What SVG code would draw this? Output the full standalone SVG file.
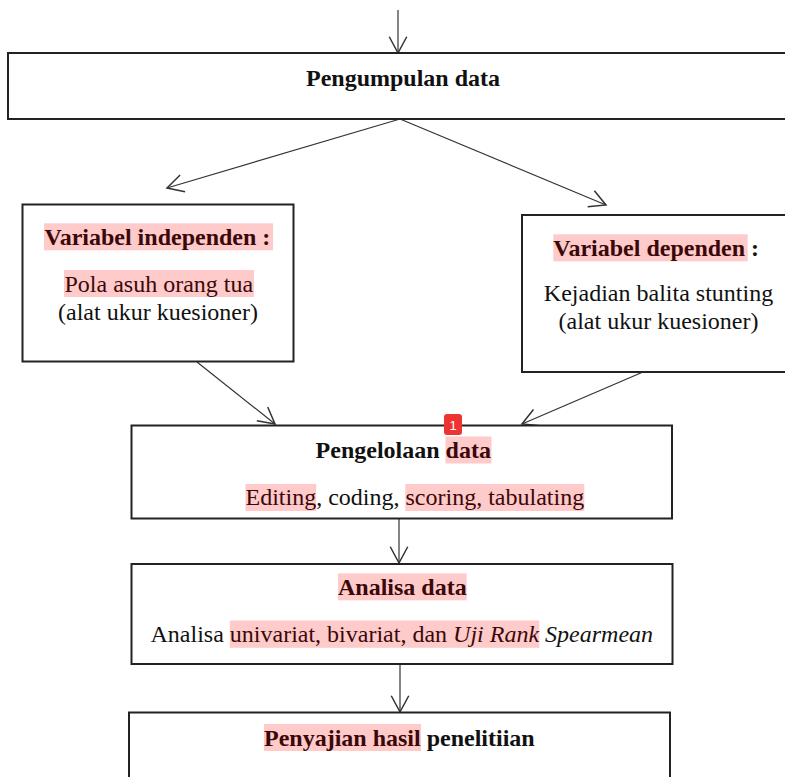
<svg xmlns="http://www.w3.org/2000/svg" width="785" height="777" viewBox="0 0 785 777">
<style>
.box{fill:#fff;stroke:#222;stroke-width:2}
.t{font-family:"Liberation Serif","Times New Roman",serif;font-size:24px;fill:#111}
.b{font-weight:bold}
.i{font-style:italic}
.hl{fill:#ffcaca}
.ht{fill:#3a0808}
.con{fill:none;stroke:#333;stroke-width:1.2}
</style>
<defs>
<marker id="arr" markerUnits="userSpaceOnUse" markerWidth="20" markerHeight="20" refX="0" refY="0" viewBox="-14 -8 16 16" orient="auto">
<path d="M-13,-7 L0,0 L-13,7" fill="none" stroke="#333" stroke-width="1.2"/>
</marker>
</defs>
<rect width="785" height="777" fill="#fff"/>
<g id="connectors">
<line class="con" x1="398" y1="10" x2="398" y2="53" marker-end="url(#arr)"/>
<line class="con" x1="400" y1="119" x2="167" y2="188" marker-end="url(#arr)"/>
<line class="con" x1="400" y1="119" x2="606" y2="205" marker-end="url(#arr)"/>
<line class="con" x1="197" y1="362" x2="275" y2="424" marker-end="url(#arr)"/>
<line class="con" x1="643" y1="372" x2="522" y2="424" marker-end="url(#arr)"/>
<line class="con" x1="399" y1="519" x2="399" y2="563" marker-end="url(#arr)"/>
<line class="con" x1="400" y1="664" x2="400" y2="712" marker-end="url(#arr)"/>
</g>
<g id="pengumpulan">
<rect class="box" x="8" y="53" width="800" height="66"/>
<text class="t b" x="306" y="86">Pengumpulan data</text>
</g>
<g id="independen">
<rect class="box" x="22.5" y="204.5" width="271" height="157"/>
<rect class="hl" x="44" y="223.3" width="229" height="27"/>
<text class="t b ht" x="44.5" y="244.8">Variabel independen :</text>
<rect class="hl" x="64" y="270" width="190" height="27"/>
<text class="t ht" x="64.5" y="291.5">Pola asuh orang tua</text>
<text class="t" x="158" y="319.5" text-anchor="middle">(alat ukur kuesioner)</text>
</g>
<g id="dependen">
<rect class="box" x="522" y="215" width="280" height="157"/>
<rect class="hl" x="553.3" y="234.3" width="194.4" height="27"/>
<text class="t b" x="553.3" y="255.7"><tspan class="ht">Variabel dependen</tspan> :</text>
<text class="t" x="658.5" y="301" text-anchor="middle">Kejadian balita stunting</text>
<text class="t" x="658.5" y="328.8" text-anchor="middle">(alat ukur kuesioner)</text>
</g>
<g id="pengelolaan">
<rect class="box" x="131.5" y="425.5" width="540.5" height="93"/>
<rect class="hl" x="445.5" y="436.5" width="46" height="27"/>
<text class="t b" x="315.6" y="457.8">Pengelolaan <tspan class="ht">data</tspan></text>
<rect class="hl" x="245.5" y="484" width="70.7" height="27"/>
<rect class="hl" x="405.3" y="484" width="179" height="27"/>
<text class="t" x="245.5" y="505.4"><tspan class="ht">Editing</tspan>, coding, <tspan class="ht">scoring, tabulating</tspan></text>
</g>
<g id="analisa">
<rect class="box" x="131.5" y="564" width="541" height="100"/>
<rect class="hl" x="338" y="573.3" width="128.7" height="27"/>
<text class="t b ht" x="338" y="594.8">Analisa data</text>
<rect class="hl" x="229.8" y="620.5" width="309.5" height="27.3"/>
<text class="t" x="150.5" y="642">Analisa <tspan class="ht">univariat, bivariat, dan <tspan class="i">Uji Rank</tspan></tspan> <tspan class="i">Spearmean</tspan></text>
</g>
<g id="penyajian">
<rect class="box" x="129" y="712.5" width="541" height="100"/>
<rect class="hl" x="264" y="724" width="157" height="27"/>
<text class="t b" x="264" y="745.5"><tspan class="ht">Penyajian hasil</tspan> penelitiian</text>
</g>
<g id="badge">
<rect x="444" y="414" width="18" height="21" rx="3" fill="#ee3333"/>
<text x="453" y="430" text-anchor="middle" font-family="Liberation Sans, Arial, sans-serif" font-size="13" fill="#fff">1</text>
</g>
</svg>
